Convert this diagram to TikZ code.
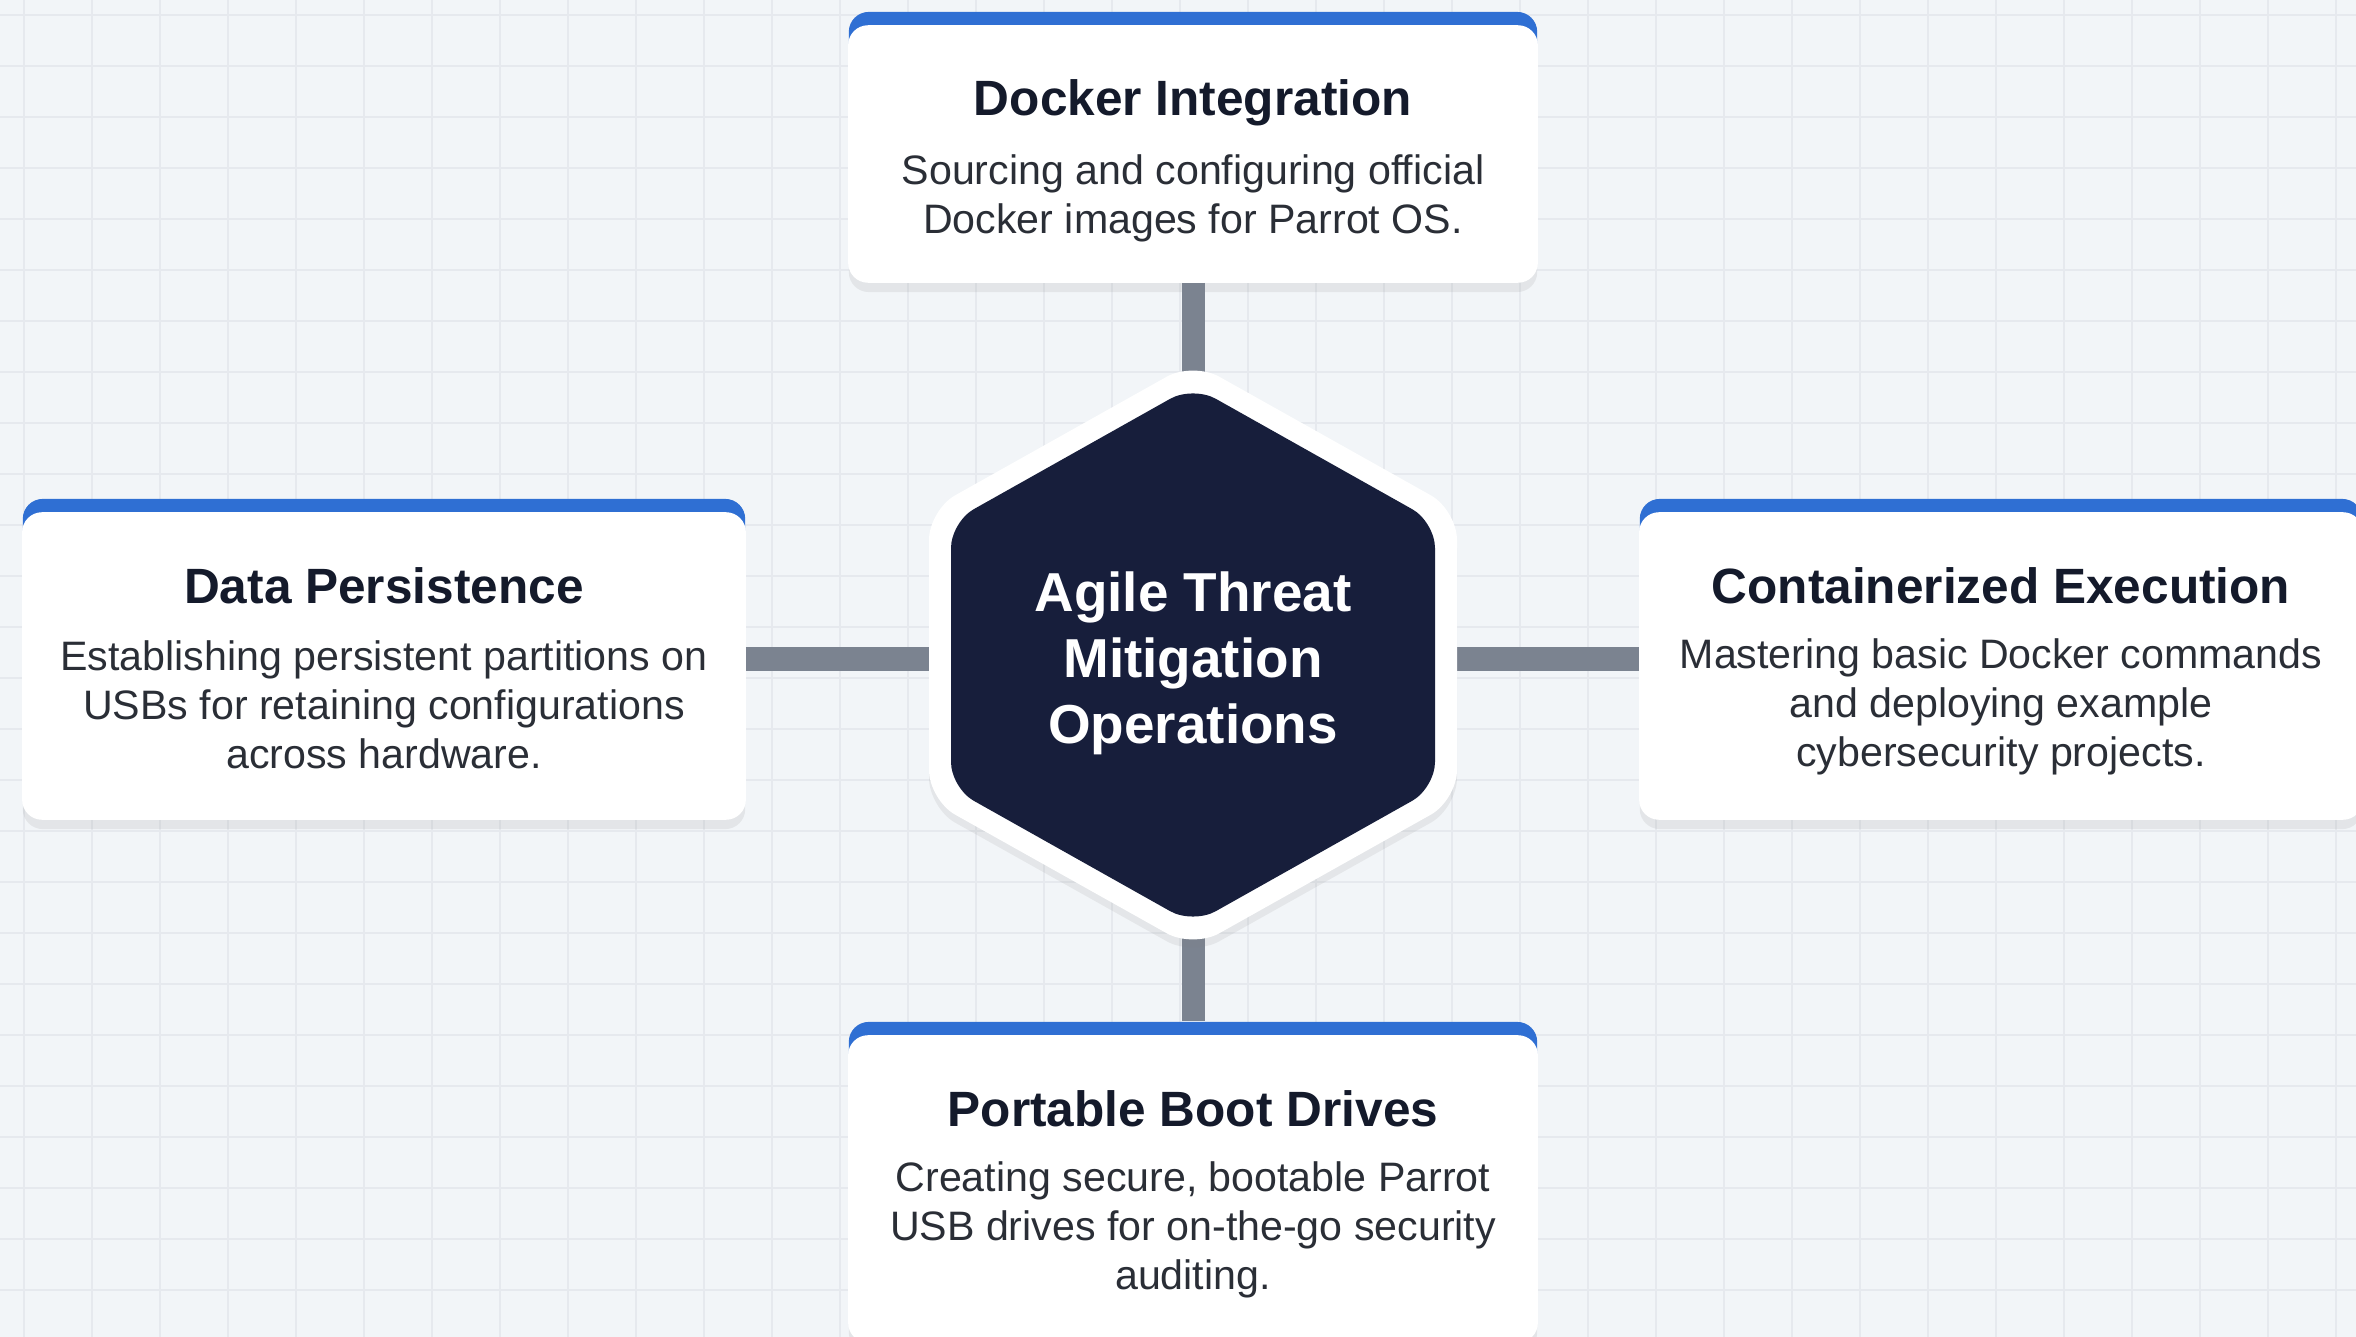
\documentclass[tikz,border=0pt]{standalone}
\usepackage{fontspec}
\setmainfont{Liberation Sans}
\usetikzlibrary{positioning,shadows}

\definecolor{bgpaper}{HTML}{F2F5F8}
\definecolor{gridline}{HTML}{E6E9EE}
\definecolor{capblue}{HTML}{2F6FD3}
\definecolor{linkgray}{HTML}{7B8390}
\definecolor{hubnavy}{HTML}{171E3B}
\definecolor{titleink}{HTML}{141A2B}
\definecolor{bodyink}{HTML}{2A2E36}

\begin{document}
\begin{tikzpicture}[x=0.01cm,y=-0.01cm,
  card/.style={rectangle,rounded corners=0.2cm,fill=capblue,minimum width=6.88cm,
    drop shadow={opacity=0.13,shadow xshift=0cm,shadow yshift=-0.1cm}},
  widecard/.style={card,minimum width=7.22cm},
  cardtitle/.style={font=\fontsize{14.1}{17}\selectfont\bfseries,text=titleink},
  carddesc/.style={align=center,font=\fontsize{11.7}{13.9}\selectfont,text=bodyink},
  hubtext/.style={align=center,font=\fontsize{15.6}{18.8}\selectfont\bfseries,text=white},
  link/.style={draw=linkgray,line width=0.23cm},
  gridrule/.style={draw=gridline,line width=0.015cm}]

    % Paper and grid
	\useasboundingbox (0,0) rectangle (2356,1337);
	\fill[bgpaper] (0,0) rectangle (2356,1337);
	\foreach \gy in {15,66,...,1337}
		\draw[gridrule] (0,\gy) -- (2356,\gy);
	\foreach \gx in {24,92,...,2356}
		\draw[gridrule] (\gx,0) -- (\gx,1337);

	% The cards
	\node[card,minimum height=2.7cm] (docker) at (1193,147) {};
	\node[widecard,minimum height=3.2cm] (persist) at (384,659) {};
	\node[widecard,minimum height=3.2cm] (contain) at (2001,659) {};
	\node[card,minimum height=3.2cm] (boot) at (1193,1182) {};

	\fill[white,rounded corners=0.2cm] ([yshift=-0.14cm]docker.north west) rectangle (docker.south east);
	\fill[white,rounded corners=0.2cm] ([yshift=-0.14cm]persist.north west) rectangle (persist.south east);
	\fill[white,rounded corners=0.2cm] ([yshift=-0.14cm]contain.north west) rectangle (contain.south east);
	\fill[white,rounded corners=0.2cm] ([yshift=-0.14cm]boot.north west) rectangle (boot.south east);

	% Card texts
	\node[cardtitle] (dockerT) at (1193,103) {Docker Integration};
	\node[carddesc] (dockerD) at (1193,198) {Sourcing and configuring official\\Docker images for Parrot OS.};

	\node[cardtitle] (persistT) at (384,586) {Data Persistence};
	\node[carddesc] (persistD) at (384,705) {Establishing persistent partitions on\\USBs for retaining configurations\\across hardware.};

	\node[cardtitle] (containT) at (2001,586) {Containerized Execution};
	\node[carddesc] (containD) at (2001,707) {Mastering basic Docker commands\\and deploying example\\cybersecurity projects.};

	\node[cardtitle] (bootT) at (1193,1109) {Portable Boot Drives};
	\node[carddesc] (bootD) at (1193,1230) {Creating secure, bootable Parrot\\USB drives for on-the-go security\\auditing.};

	% Links to the hub
	\coordinate (hubC) at (1193,655);
	\path[link]
	(docker.south) -- (hubC)
	(boot.north) -- (hubC)
	(persist.east) -- (persist.east -| hubC)
	(contain.west) -- (contain.west -| hubC);

	% The hub
	\fill[white,rounded corners=0.3cm,drop shadow={opacity=0.12,shadow xshift=0cm,shadow yshift=-0.08cm}]
	(1193,362) -- (1457,510) -- (1457,800) -- (1193,948) -- (929,800) -- (929,510) -- cycle;
	\fill[hubnavy,rounded corners=0.26cm]
	(1193,386) -- (1435,522) -- (1435,788) -- (1193,924) -- (951,788) -- (951,522) -- cycle;
	\node[hubtext] (hub) at (hubC) [yshift=-0.08cm] {Agile Threat\\Mitigation\\Operations};

\end{tikzpicture}
\end{document}
